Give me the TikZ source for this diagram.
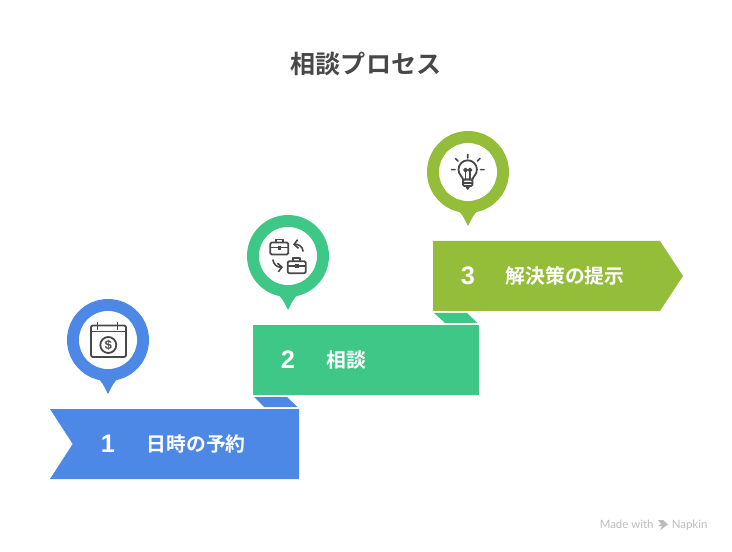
\documentclass[tikz,border=0pt]{standalone}
\usepackage{fontspec}
\usetikzlibrary{arrows.meta}
\setmainfont{Liberation Sans}
\newfontfamily\cjk{Noto Sans CJK JP}[BoldFont={Noto Sans CJK JP Bold}]
\newfontfamily\smallf{Lato}
\definecolor{cblue}{HTML}{4E88E7}
\definecolor{cgreen}{HTML}{3EC787}
\definecolor{colive}{HTML}{94BD3A}
\definecolor{cink}{HTML}{484848}
\definecolor{cmark}{HTML}{BDBDBD}
\tikzset{
  titletext/.style={font=\cjk\bfseries\fontsize{18.8pt}{20pt}\selectfont,text=cink,inner sep=0pt},
  numtext/.style={font=\bfseries\fontsize{19pt}{20pt}\selectfont,text=white,inner sep=0pt},
  labeltext/.style={font=\cjk\bfseries\fontsize{14.85pt}{16pt}\selectfont,text=white,inner sep=0pt,anchor=west},
  marktext/.style={font=\smallf\fontsize{8.6pt}{10pt}\selectfont,text=cmark,inner sep=0pt,anchor=base west},
  iconline/.style={draw=cink,line width=1.35pt,fill=none,line join=round},
  iconthin/.style={draw=cink,line width=1.2pt,line cap=round,fill=none,line join=round}
}
\newcommand{\mypin}[3]{%
  \fill[#3] (#1,#2) circle[radius=41];
  \fill[#3] (#1-11,#2+38) .. controls (#1-7,#2+40) and (#1-4,#2+46) .. (#1,#2+54)
            .. controls (#1+4,#2+46) and (#1+7,#2+40) .. (#1+11,#2+38) -- cycle;
  \fill[white] (#1,#2) circle[radius=29];
}
\newcommand{\mycase}[2]{%
  \begin{scope}[shift={(#1,#2)}]
    \draw[iconline,rounded corners=1] (0,3.5) rectangle (18,15.5);
    \draw[iconline] (5.5,3.5) -- (5.5,0.5) -- (12.5,0.5) -- (12.5,3.5);
    \draw[iconline] (0,8.5) -- (18,8.5);
    \fill[cink] (7.2,6.8) rectangle (10.8,10.8);
  \end{scope}
}
\begin{document}
\begin{tikzpicture}[x=0.75pt,y=-0.75pt]
\useasboundingbox (0,0) rectangle (732,552);
\fill[white] (0,0) rectangle (732,552);
\node[titletext] (title) at (366,64) {相談プロセス};
% banners
\fill[cblue] (50,409) -- (299,409) -- (299,479) -- (50,479) -- (72.7,444) -- cycle;
\fill[cgreen] (253,325) rectangle (479,395);
\fill[colive] (433,241) -- (660,241) -- (683,276) -- (660,311) -- (433,311) -- cycle;
% folds
\fill[cblue] (254,397) -- (287,397) -- (297.5,407) -- (264,407) -- cycle;
\fill[cgreen] (434,313) -- (467,313) -- (477.5,323) -- (445,323) -- cycle;
% pins
\mypin{108}{340}{cblue}
\mypin{288}{256}{cgreen}
\mypin{468}{172}{colive}
% labels
\node[numtext] (n1) at (108,444) {1};
\node[labeltext] (l1) at (146.5,444) {日時の予約};
\node[numtext] (n2) at (288,360) {2};
\node[labeltext] (l2) at (326.5,360) {相談};
\node[numtext] (n3) at (468,276) {3};
\node[labeltext] (l3) at (505.5,276) {解決策の提示};
% calendar icon
\draw[iconline,rounded corners=1.5] (91,325.5) rectangle (126,357);
\draw[iconline] (91,331.5) -- (126,331.5);
\draw[iconline] (97.5,322) -- (97.5,330.5);
\draw[iconline] (117.5,322) -- (117.5,330.5);
\draw[iconline] (108.3,345) circle[radius=8];
\node[font=\bfseries\fontsize{9.5pt}{9.5pt}\selectfont,text=cink,inner sep=0pt] (dollar) at (108.3,345) {\$};
% exchange icon
\mycase{270.3}{239}
\mycase{287.7}{257.7}
\draw[iconthin,-{Straight Barb[length=3pt,width=6.5pt]}] (303,251) .. controls (302.5,246) and (298,244) .. (293,244.5);
\draw[iconthin,-{Straight Barb[length=3pt,width=6.5pt]}] (273,260) .. controls (273.5,265) and (278,267.5) .. (283,267);
% bulb icon
\draw[iconline] (463,179.5) .. controls (462.5,176) and (458.5,175) .. (458.5,169.5)
  arc[start angle=180,end angle=360,radius=9.2] .. controls (476.9,175) and (473,176) .. (472.5,179.5) -- cycle;
\draw[iconthin] (465.5,179) -- (465.5,170) (470,179) -- (470,170);
\draw[iconthin] (465.5,170) circle[radius=1.6] (470,170) circle[radius=1.6];
\draw[iconline,rounded corners=1] (463,179.5) rectangle (472.5,186);
\draw[iconthin] (463,183) -- (472.5,183);
\draw[iconthin] (466,186) -- (467.7,189) -- (469.5,186);
\draw[iconthin] (467.7,154.5) -- (467.7,158)
  (455.5,158.5) -- (458,161) (480,158.5) -- (477.5,161)
  (451.5,169.7) -- (455,169.7) (480.5,169.7) -- (484,169.7);
% watermark
\node[marktext] (made) at (599.5,528.5) {Made with};
\fill[cmark] (658,520) -- (663,520) -- (668,524.5) -- (660,530) -- (662,526) -- (658,526) -- (661,524) -- cycle;
\node[marktext] (napkin) at (671.5,528.5) {Napkin};
\end{tikzpicture}
\end{document}
